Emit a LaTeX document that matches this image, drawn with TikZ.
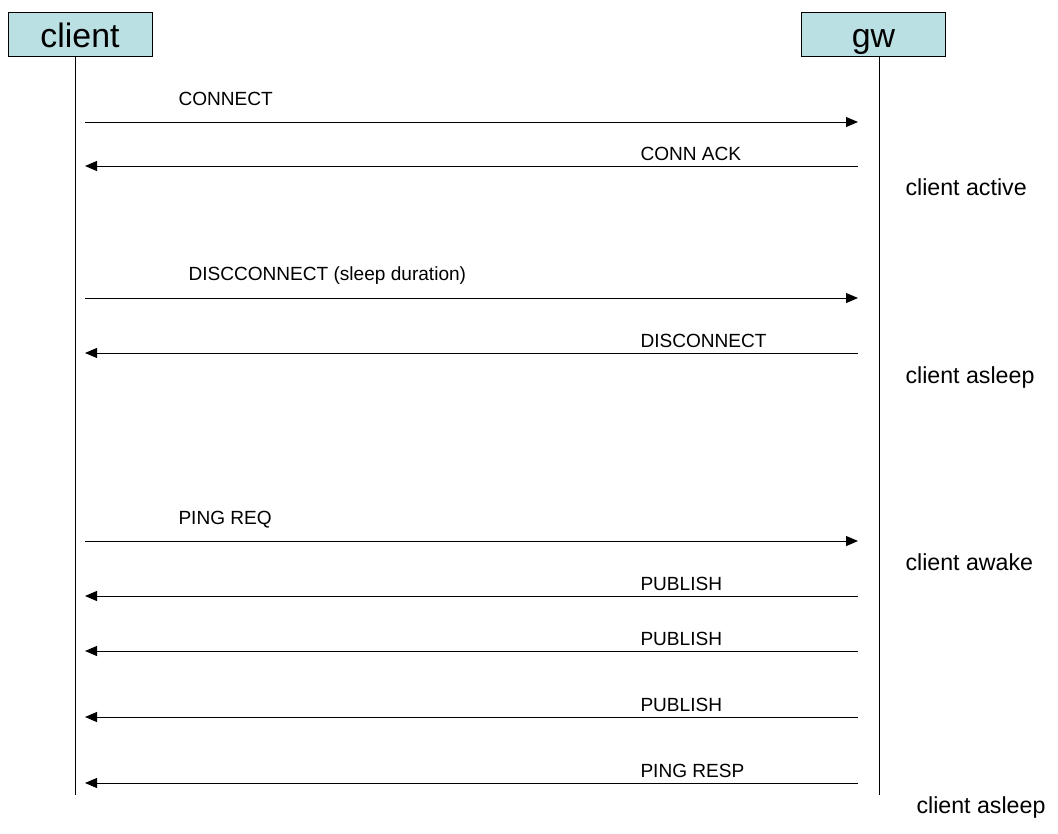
\documentclass[tikz,border=0pt]{standalone}
\usepackage{fontspec}
\setmainfont{Liberation Sans}
\usetikzlibrary{arrows.meta}
\definecolor{hdrblue}{RGB}{187,224,227}

\begin{document}
\begin{tikzpicture}[x=0.75pt,y=-0.75pt,line width=0.75pt,
	hdr/.style={draw,fill=hdrblue,minimum width=108pt,minimum height=33pt,inner sep=0pt,font=\fontsize{25.4}{30}\selectfont,text height=22.9pt,text depth=3.3pt},
	msg/.style={anchor=base west,inner sep=0pt,font=\fontsize{14.3}{17}\selectfont},
	state/.style={anchor=base west,inner sep=0pt,font=\fontsize{17.4}{21}\selectfont},
	>={Triangle[length=9pt,width=7.5pt]}]
			\useasboundingbox (0,0) rectangle (1058,833);
			\node[hdr] (client)at(80,34) {client};
			\node[hdr] (gw)at(873.5,34) {gw};
			\coordinate (clientTop)at(75,56);
			\coordinate (clientEnd)at(75,795);
			\coordinate (gwTop)at(879,56);
			\coordinate (gwEnd)at(879,795);
			\coordinate (c1)at(85,122);  \coordinate (g1)at(858,122);
			\coordinate (c2)at(85,166);  \coordinate (g2)at(858,166);
			\coordinate (c3)at(85,298);  \coordinate (g3)at(858,298);
			\coordinate (c4)at(85,353);  \coordinate (g4)at(858,353);
			\coordinate (c5)at(85,541);  \coordinate (g5)at(858,541);
			\coordinate (c6)at(85,596);  \coordinate (g6)at(858,596);
			\coordinate (c7)at(85,651);  \coordinate (g7)at(858,651);
			\coordinate (c8)at(85,717);  \coordinate (g8)at(858,717);
			\coordinate (c9)at(85,783);  \coordinate (g9)at(858,783);
			\node[msg] (m1)at(178,105) {CONNECT};
			\node[msg] (m2)at(640,160) {CONN ACK};
			\node[msg] (m3)at(188,280) {DISCCONNECT (sleep duration)};
			\node[msg] (m4)at(640,347) {DISCONNECT};
			\node[msg] (m5)at(178,524) {PING REQ};
			\node[msg] (m6)at(640,590) {PUBLISH};
			\node[msg] (m7)at(640,645) {PUBLISH};
			\node[msg] (m8)at(640,711) {PUBLISH};
			\node[msg] (m9)at(640,777) {PING RESP};
			\node[state] (s1)at(905,195) {client active};
			\node[state] (s2)at(905,383) {client asleep};
			\node[state] (s3)at(905,570) {client awake};
			\node[state] (s4)at(916,813) {client asleep};
			\draw (clientTop) -- (clientEnd);
			\draw (gwTop) -- (gwEnd);
			\draw[->] (c1) -- (g1);
			\draw[->] (g2) -- (c2);
			\draw[->] (c3) -- (g3);
			\draw[->] (g4) -- (c4);
			\draw[->] (c5) -- (g5);
			\draw[->] (g6) -- (c6);
			\draw[->] (g7) -- (c7);
			\draw[->] (g8) -- (c8);
			\draw[->] (g9) -- (c9);
			\end{tikzpicture}
\end{document}
